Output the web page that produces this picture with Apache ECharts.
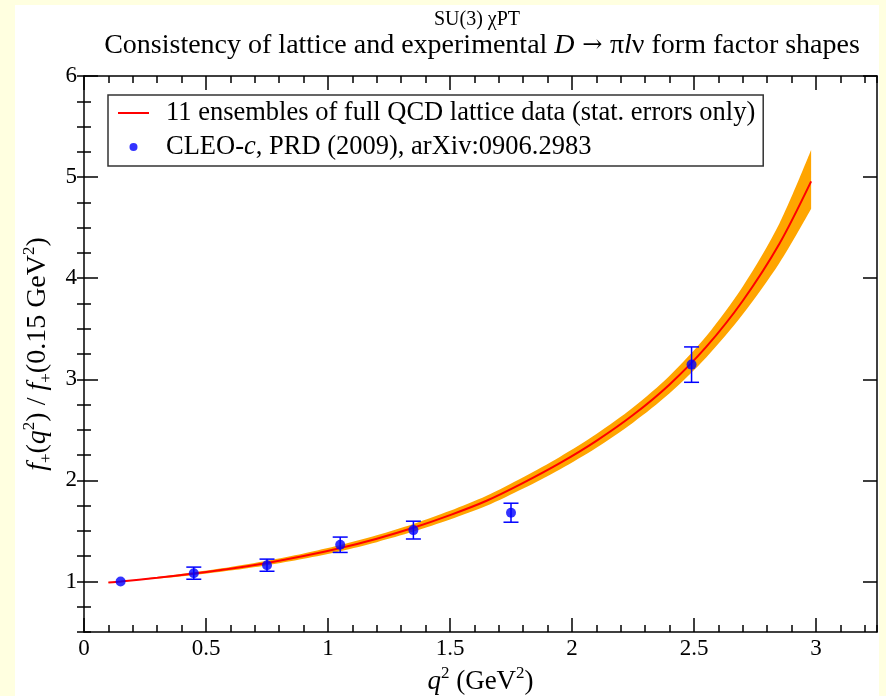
<!DOCTYPE html>
<html>
<head>
<meta charset="utf-8">
<script src="https://cdn.jsdelivr.net/npm/echarts@6/dist/echarts.min.js"></script>
<style>
  html, body { margin: 0; padding: 0; background: #FFFFE0; }
  #chart { width: 886px; height: 696px; }
</style>
</head>
<body>
<div id="chart"></div>
<script>
// Lattice QCD fit of f+(q^2)/f+(0.15 GeV^2): central curve and statistical band
const latticeQ2 = [0.10, 0.15, 0.30, 0.45, 0.60, 0.75, 0.90, 1.05, 1.20, 1.35, 1.50,
                   1.65, 1.80, 1.95, 2.10, 2.25, 2.40, 2.55, 2.70, 2.85, 2.98];
const latticeRatio = [0.990, 1.000, 1.036, 1.078, 1.126, 1.183, 1.251, 1.330, 1.423, 1.531, 1.656,
                      1.798, 1.975, 2.170, 2.391, 2.646, 2.949, 3.320, 3.777, 4.340, 4.957];
const latticeErrUp = [0.004, 0.000, 0.008, 0.014, 0.018, 0.022, 0.026, 0.030, 0.034, 0.038, 0.043,
                      0.050, 0.056, 0.062, 0.068, 0.075, 0.087, 0.105, 0.140, 0.200, 0.310];
const latticeErrDown = [0.004, 0.000, 0.008, 0.014, 0.018, 0.022, 0.026, 0.030, 0.034, 0.038, 0.043,
                        0.050, 0.056, 0.062, 0.068, 0.075, 0.087, 0.105, 0.135, 0.190, 0.270];

// CLEO-c measurements, normalised to the 0.15 GeV^2 bin
const cleoQ2 = [0.15, 0.45, 0.75, 1.05, 1.35, 1.75, 2.49];
const cleoRatio = [1.000, 1.082, 1.161, 1.363, 1.508, 1.680, 3.145];
const cleoErr = [0.000, 0.060, 0.060, 0.076, 0.088, 0.094, 0.175];

// labelled (major) tick positions
const xMajorTicks = [0, 0.5, 1, 1.5, 2, 2.5, 3];
const yMajorTicks = [1, 2, 3, 4, 5, 6];

const latticeLabel = '11 ensembles of full QCD lattice data (stat. errors only)';
const cleoLabel = 'CLEO-c, PRD (2009), arXiv:0906.2983';

const SERIF = '"Liberation Serif", "Times New Roman", serif';
const BLACK = '#000000';
const SMOOTH = 0.3;

const rect = { left: 84, top: 76, width: 793, height: 556 };

function richSet(size) {
  return {
    n: { fontFamily: SERIF, fontSize: size, color: BLACK, lineHeight: 34 },
    i: { fontFamily: SERIF, fontSize: size, color: BLACK, fontStyle: 'italic', lineHeight: 34 },
    sup: { fontFamily: SERIF, fontSize: 17, color: BLACK, lineHeight: 17, verticalAlign: 'top' },
    sub: { fontFamily: SERIF, fontSize: 17, color: BLACK, lineHeight: 14, verticalAlign: 'bottom' }
  };
}

function majorAxis(ticks, extra) {
  return Object.assign({
    type: 'value',
    splitLine: { show: false },
    axisLine: { show: true, onZero: false, lineStyle: { color: BLACK, width: 1.5 } },
    axisTick: {
      show: true, inside: true, length: 14, customValues: ticks,
      lineStyle: { color: BLACK, width: 1.5 }
    },
    axisLabel: { show: false },
    minorTick: { show: false }
  }, extra);
}

function minorAxis(extra) {
  return Object.assign({
    type: 'value',
    splitLine: { show: false },
    axisLine: { show: false },
    axisTick: { show: true, inside: true, length: 7, lineStyle: { color: BLACK, width: 1.5 } },
    axisLabel: { show: false }
  }, extra);
}

// Bezier segments through pixel points, same scheme as a smoothed line series
function bezierThrough(pts, smooth) {
  const n = pts.length;
  const outCp = [], inCp = [];
  for (let j = 0; j < n; j++) {
    const p = pts[j];
    if (j === 0 || j === n - 1) { outCp.push(p); inCp.push(p); continue; }
    const prev = pts[j - 1], next = pts[j + 1];
    const vx = (next[0] - prev[0]) * smooth, vy = (next[1] - prev[1]) * smooth;
    const lp = Math.hypot(p[0] - prev[0], p[1] - prev[1]);
    const ln = Math.hypot(next[0] - p[0], next[1] - p[1]);
    const r = (lp + ln) > 0 ? ln / (lp + ln) : 0.5;
    outCp.push([p[0] + vx * r, p[1] + vy * r]);
    inCp.push([p[0] - vx * (1 - r), p[1] - vy * (1 - r)]);
  }
  let d = '';
  for (let j = 1; j < n; j++) {
    const a = outCp[j - 1], b = inCp[j], p = pts[j];
    d += ' C ' + a[0] + ' ' + a[1] + ' ' + b[0] + ' ' + b[1] + ' ' + p[0] + ' ' + p[1];
  }
  return d;
}

const bandUpper = latticeQ2.map((q, i) => [q, latticeRatio[i] + latticeErrUp[i]]);
const bandLower = latticeQ2.map((q, i) => [q, latticeRatio[i] - latticeErrDown[i]]);
const latticeLine = latticeQ2.map((q, i) => [q, latticeRatio[i]]);
const cleoPoints = cleoQ2.map((q, i) => [q, cleoRatio[i]]);
const cleoBars = cleoQ2.map((q, i) => [q, cleoRatio[i] - cleoErr[i], cleoRatio[i] + cleoErr[i]]);

const gridBox = Object.assign({ containLabel: false, outerBoundsMode: 'none' }, rect);

const option = {
  animation: false,
  backgroundColor: '#FFFFE0',
  graphic: [{
    type: 'rect', z: -100, silent: true,
    shape: { x: 15, y: 5, width: 864, height: 700 },
    style: { fill: '#FFFFFF' }
  }],
  title: [
    {
      text: 'SU(3) χPT',
      left: 477, top: 10, textAlign: 'center', padding: 0,
      textStyle: { fontFamily: SERIF, fontSize: 20, fontWeight: 'normal', color: BLACK }
    },
    {
      text: '{n|Consistency of lattice and experimental }{i|D}{a| → }{n|π}{i|l}{n|ν form factor shapes}',
      left: 482, top: 32, textAlign: 'center', padding: 0,
      textStyle: {
        fontFamily: SERIF, fontSize: 28, fontWeight: 'normal', color: BLACK,
        rich: {
          n: { fontFamily: SERIF, fontSize: 28, color: BLACK },
          i: { fontFamily: SERIF, fontSize: 28, color: BLACK, fontStyle: 'italic' },
          a: { fontFamily: '"DejaVu Serif", serif', fontSize: 24, color: BLACK }
        }
      }
    }
  ],
  legend: {
    data: [
      {
        name: latticeLabel,
        itemStyle: { color: 'rgba(0,0,0,0)', borderColor: 'rgba(0,0,0,0)', borderWidth: 0 }
      },
      { name: cleoLabel, icon: 'circle' }
    ],
    orient: 'vertical',
    left: 108, top: 95,
    padding: [4, 8, 5, 9],
    itemGap: 6,
    itemWidth: 31, itemHeight: 8,
    backgroundColor: '#FFFFFF',
    borderColor: '#333333', borderWidth: 1.5,
    selectedMode: false,
    formatter: name => name === cleoLabel
      ? '{sp| }{n|CLEO-}{i|c}{n|, PRD (2009), arXiv:0906.2983}'
      : '{sp| }{n|' + name + '}',
    textStyle: {
      fontFamily: SERIF, fontSize: 26.5, color: BLACK, lineHeight: 28,
      rich: {
        sp: { width: 12, fontSize: 26.5, lineHeight: 28 },
        n: { fontFamily: SERIF, fontSize: 26.5, color: BLACK, lineHeight: 28 },
        i: { fontFamily: SERIF, fontSize: 26.5, color: BLACK, lineHeight: 28, fontStyle: 'italic' }
      }
    }
  },
  grid: [Object.assign({}, gridBox), Object.assign({}, gridBox)],
  xAxis: [
    majorAxis(xMajorTicks, {
      gridIndex: 0, position: 'bottom', min: 0, max: 3.25,
      axisLabel: {
        show: true, margin: 5, color: BLACK, fontFamily: SERIF, fontSize: 23,
        customValues: xMajorTicks
      },
      name: '{i|q}{sup|2}{n| (GeV}{sup|2}{n|)}',
      nameLocation: 'middle', nameGap: 31,
      nameTextStyle: { fontFamily: SERIF, fontSize: 27, color: BLACK, rich: richSet(27) }
    }),
    majorAxis(xMajorTicks, { gridIndex: 0, position: 'top', min: 0, max: 3.25 }),
    minorAxis({ gridIndex: 1, position: 'bottom', min: 0, max: 3.25, interval: 0.1 }),
    minorAxis({ gridIndex: 1, position: 'top', min: 0, max: 3.25, interval: 0.1 })
  ],
  yAxis: [
    majorAxis(yMajorTicks, {
      gridIndex: 0, position: 'left', min: 0.5, max: 6,
      axisLabel: {
        show: true, margin: 7, color: BLACK, fontFamily: SERIF, fontSize: 23,
        customValues: yMajorTicks
      },
      name: '{i|f}{sub|+}{n|(}{i|q}{sup|2}{n|) / }{i|f}{sub|+}{n|(0.15 GeV}{sup|2}{n|)}',
      nameLocation: 'middle', nameGap: 28,
      nameTextStyle: { fontFamily: SERIF, fontSize: 28, color: BLACK, rich: richSet(28) }
    }),
    majorAxis(yMajorTicks, { gridIndex: 0, position: 'right', min: 0.5, max: 6 }),
    minorAxis({ gridIndex: 1, position: 'left', min: 0.5, max: 6, interval: 0.25 }),
    minorAxis({ gridIndex: 1, position: 'right', min: 0.5, max: 6, interval: 0.25 })
  ],
  series: [
    {
      // orange statistical band between the upper and lower edges
      name: 'lattice-band', type: 'custom', xAxisIndex: 0, yAxisIndex: 0,
      data: [latticeLine[1]], encode: { x: 0, y: 1 }, z: 1, silent: true,
      renderItem(params, api) {
        const up = bandUpper.map(p => api.coord(p));
        const lo = bandLower.map(p => api.coord(p)).reverse();
        const d = 'M ' + up[0][0] + ' ' + up[0][1] + bezierThrough(up, SMOOTH) +
                  ' L ' + lo[0][0] + ' ' + lo[0][1] + bezierThrough(lo, SMOOTH) + ' Z';
        return { type: 'path', shape: { pathData: d }, style: { fill: '#FFA500' } };
      }
    },
    {
      name: latticeLabel, type: 'line', xAxisIndex: 0, yAxisIndex: 0,
      data: latticeLine, smooth: SMOOTH, symbol: 'none',
      lineStyle: { color: '#FF0000', width: 2 }, itemStyle: { color: '#FF0000' }, z: 3
    },
    {
      name: 'cleo-errors', type: 'custom', xAxisIndex: 0, yAxisIndex: 0,
      data: cleoBars, encode: { x: 0, y: [1, 2] }, z: 4, silent: true,
      renderItem(params, api) {
        const x = api.value(0), lo = api.value(1), hi = api.value(2);
        if (!(hi > lo)) return null;
        const a = api.coord([x, lo]), b = api.coord([x, hi]);
        const cap = 7.5;
        const st = { stroke: '#0000FF', lineWidth: 1.5 };
        return {
          type: 'group',
          children: [
            { type: 'line', shape: { x1: a[0], y1: a[1], x2: b[0], y2: b[1] }, style: st },
            { type: 'line', shape: { x1: a[0] - cap, y1: a[1], x2: a[0] + cap, y2: a[1] }, style: st },
            { type: 'line', shape: { x1: b[0] - cap, y1: b[1], x2: b[0] + cap, y2: b[1] }, style: st }
          ]
        };
      }
    },
    {
      name: cleoLabel, type: 'scatter', xAxisIndex: 0, yAxisIndex: 0,
      data: cleoPoints, symbol: 'circle', symbolSize: 10,
      itemStyle: { color: '#0000FF' }, z: 5
    }
  ]
};

const chart = echarts.init(document.getElementById('chart'));
chart.setOption(option);
</script>
</body>
</html>
